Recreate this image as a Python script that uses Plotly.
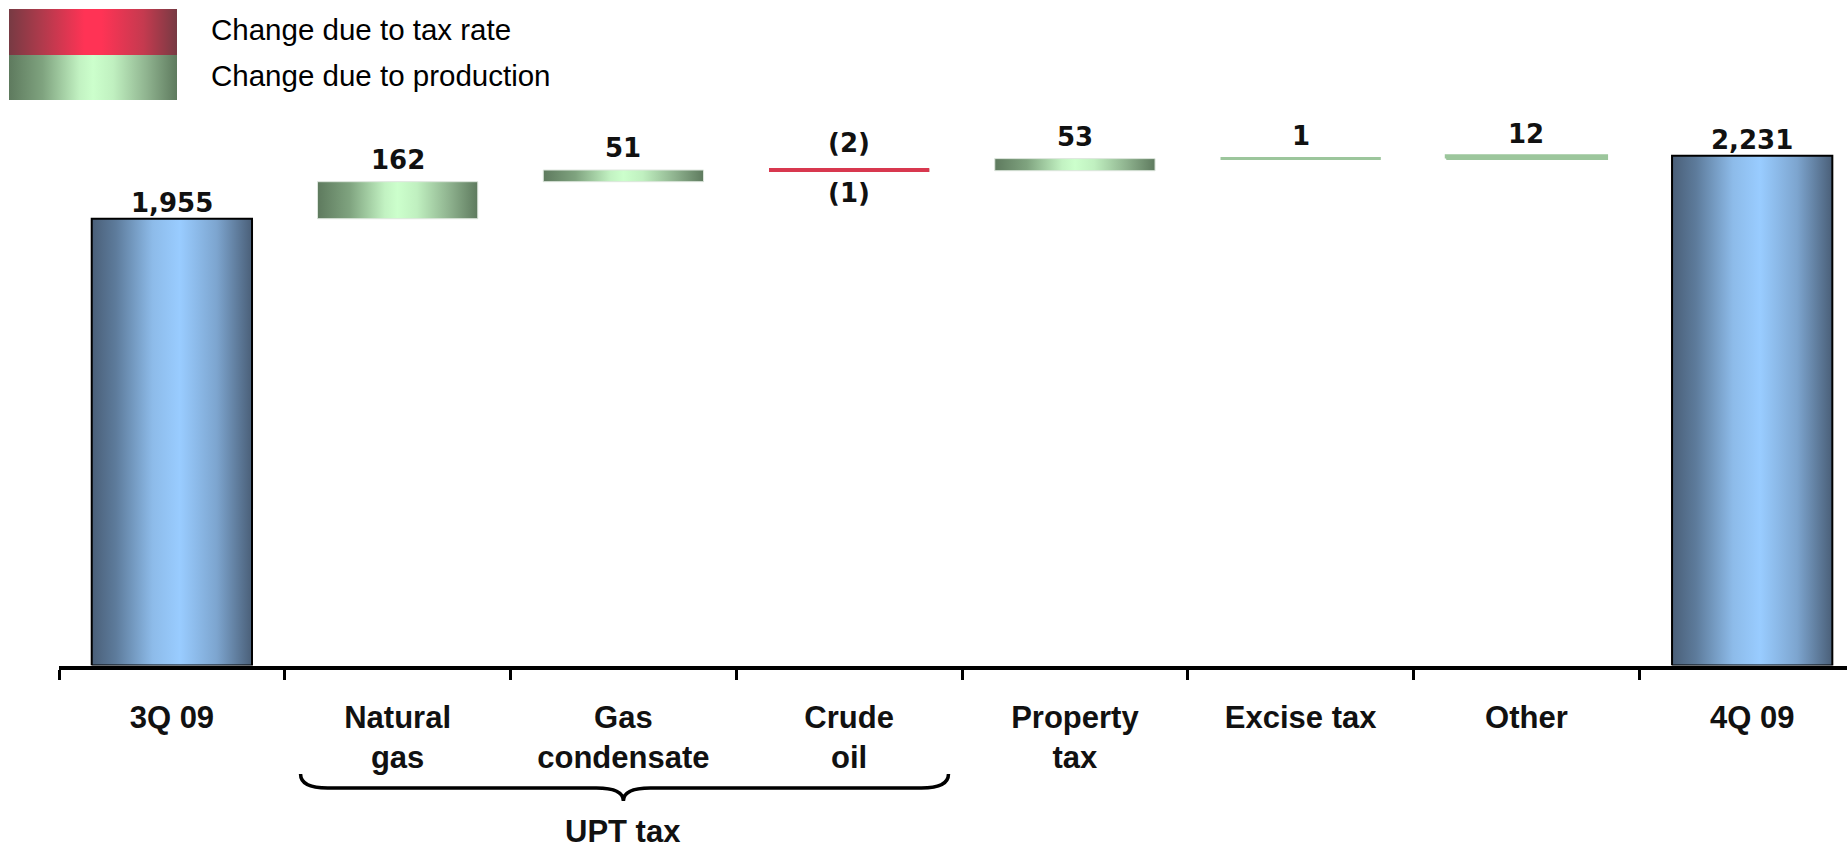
import plotly.graph_objects as go

# ---- data -------------------------------------------------------------
categories = ["3Q 09", "Natural gas", "Gas condensate", "Crude oil",
              "Property tax", "Excise tax", "Other", "4Q 09"]
tick_labels = ["3Q 09", "Natural<br>gas", "Gas<br>condensate", "Crude<br>oil",
               "Property<br>tax", "Excise tax", "Other", "4Q 09"]

opening_total = 1955   # 3Q 09
closing_total = 2231   # 4Q 09

# quarter-on-quarter changes for the middle categories (Natural gas .. Other)
tax_rate_change = [0, 0, -2, 0, 0, 0]
production_change = [162, 51, -1, 53, 1, 12]

group_label = "UPT tax"
group_members = ["Natural gas", "Gas condensate", "Crude oil"]
legend_labels = ["Change due to tax rate", "Change due to production"]

# ---- style ------------------------------------------------------------
FIG_W, FIG_H = 1847, 851
AXIS_PX = 665.5            # pixel row of the category axis
Y_MAX = 2912               # top of the value axis
X_LEFT_PX = 59             # where the category axis starts
X_MAX = 7.42
BAR_W = 0.71
PX_PER_UNIT = AXIS_PX / Y_MAX

BLUE = [[0, "#4a5f78"], [0.15, "#5d7b9b"], [0.38, "#8dbbe9"], [0.55, "#99ccff"],
        [0.78, "#7da5cf"], [1, "#4a5f78"]]
GREEN = [[0, "#5e7a5e"], [0.2, "#7fa37f"], [0.42, "#c2f2c2"], [0.5, "#ccffcc"],
         [0.62, "#c0f0c0"], [0.82, "#8fb38f"], [1, "#5e7a5e"]]
RED = [[0, "#773a43"], [0.2, "#b13a4c"], [0.45, "#ff3355"], [0.55, "#ff3355"],
       [0.8, "#c53a4f"], [1, "#773a43"]]
MID_TONE = {"green": "#9cc69c", "red": "#d8384f"}

NUM_FONT = dict(family="DejaVu Sans", size=26, color="#111111", weight="bold")
CAT_FONT = dict(family="Liberation Sans, Arial", size=31, color="#111111", weight="bold")
LEG_FONT = dict(family="Liberation Sans, Arial", size=29.5, color="#000000")


def paper_y(px):
    return 1 - px / FIG_H


def gradient_box(x0, x1, y0, y1, scale, line_color, line_width, xa="x", ya="y"):
    return go.Scatter(
        x=[x0, x1, x1, x0, x0], y=[y0, y0, y1, y1, y0],
        mode="lines", fill="toself",
        fillgradient=dict(type="horizontal", colorscale=scale),
        line=dict(color=line_color, width=line_width),
        xaxis=xa, yaxis=ya, hoverinfo="skip", showlegend=False,
    )


def fmt(v):
    return f"({-v:,})" if v < 0 else f"{v:,}"


fig = go.Figure()
annotations = []

# opening and closing totals
for idx, total in ((0, opening_total), (len(categories) - 1, closing_total)):
    fig.add_trace(gradient_box(idx - BAR_W / 2, idx + BAR_W / 2, 0, total,
                               BLUE, "#000000", 2))
    annotations.append(dict(x=idx, y=total, text=fmt(total), showarrow=False,
                            xref="x", yref="y", yanchor="bottom", yshift=-1,
                            font=NUM_FONT))

# floating change bars
level = opening_total
for j, (rate, prod) in enumerate(zip(tax_rate_change, production_change)):
    idx = j + 1
    segments = [(v, sc, key) for v, sc, key in ((rate, RED, "red"), (prod, GREEN, "green")) if v != 0]
    drawn = []
    top_of_bar = level
    for v, scale, key in segments:
        y0, y1 = level, level + v
        thin = abs(v) * PX_PER_UNIT < 3
        drawn.append((v, y0, y1, scale, key, thin))
        level = y1
        top_of_bar = max(top_of_bar, y0, y1)
    bottom_of_bar = min(min(d[1], d[2]) for d in drawn)
    # draw later segments first so the first one stays on top
    for v, y0, y1, scale, key, thin in reversed(drawn):
        if thin:
            width = 4 if key == "red" else 3
            fig.add_trace(gradient_box(idx - BAR_W / 2, idx + BAR_W / 2, y0, y1,
                                       scale, MID_TONE[key], width))
        else:
            fig.add_trace(gradient_box(idx - BAR_W / 2, idx + BAR_W / 2, y0, y1,
                                       scale, "#dde6dd", 1))
    first = drawn[0]
    annotations.append(dict(x=idx, y=top_of_bar, text=fmt(first[0]), showarrow=False,
                            xref="x", yref="y", yanchor="bottom",
                            yshift=10 if len(drawn) > 1 else 5, font=NUM_FONT))
    if len(drawn) > 1:
        annotations.append(dict(x=idx, y=bottom_of_bar, text=fmt(drawn[1][0]),
                                showarrow=False, xref="x", yref="y",
                                yanchor="top", yshift=-5, font=NUM_FONT))

# legend keys
leg_x0, leg_x1 = 9, 177
leg_rows = [(9, 55), (55, 100)]
for (y0, y1), scale in zip(leg_rows, (RED, GREEN)):
    fig.add_trace(gradient_box(leg_x0, leg_x1, y0, y1, scale, "rgba(0,0,0,0)", 0,
                               xa="x2", ya="y2"))
for (y0, y1), text in zip(leg_rows, legend_labels):
    annotations.append(dict(x=209 / FIG_W, y=paper_y((y0 + y1) / 2 - 2), text=text,
                            xref="paper", yref="paper", xanchor="left",
                            yanchor="middle", showarrow=False, font=LEG_FONT))

# brace grouping the UPT components
g_idx = [categories.index(c) for c in group_members]
xl, xr = min(g_idx) - 0.43, max(g_idx) + 0.44
xm = (min(g_idx) + max(g_idx)) / 2
r = 0.12
y_end, y_line, y_tip = paper_y(774), paper_y(788), paper_y(801)
brace = (f"M {xl},{y_end} Q {xl},{y_line} {xl + r},{y_line} "
         f"L {xm - r},{y_line} Q {xm},{y_line} {xm},{y_tip} "
         f"Q {xm},{y_line} {xm + r},{y_line} L {xr - r},{y_line} "
         f"Q {xr},{y_line} {xr},{y_end}")
shapes = [dict(type="path", path=brace, xref="x", yref="paper",
               line=dict(color="#000000", width=3.5))]
annotations.append(dict(x=xm, y=paper_y(831), text=group_label, xref="x",
                        yref="paper", showarrow=False, yanchor="middle",
                        font=CAT_FONT))

fig.update_layout(
    width=FIG_W, height=FIG_H,
    margin=dict(l=0, r=0, t=0, b=0, pad=0),
    paper_bgcolor="white", plot_bgcolor="rgba(0,0,0,0)",
    showlegend=False,
    annotations=annotations, shapes=shapes,
    xaxis=dict(
        domain=[X_LEFT_PX / FIG_W, 1], range=[-0.5, X_MAX],
        tickmode="array", tickvals=list(range(len(categories))),
        ticktext=tick_labels, ticks="", tickfont=CAT_FONT,
        ticklabelstandoff=21,
        showline=True, linecolor="#000000", linewidth=4,
        showgrid=False, zeroline=False, fixedrange=True,
        minor=dict(ticks="outside", tickmode="linear", tick0=-0.5, dtick=1,
                   ticklen=10, tickwidth=3, tickcolor="#000000", showgrid=False),
    ),
    yaxis=dict(domain=[1 - AXIS_PX / FIG_H, 1], range=[0, Y_MAX], visible=False,
               fixedrange=True),
    xaxis2=dict(domain=[0, 1], range=[0, FIG_W], visible=False, anchor="y2",
                fixedrange=True),
    yaxis2=dict(domain=[0, 1], range=[FIG_H, 0], visible=False, anchor="x2",
                fixedrange=True),
)

fig.write_html("out.html")
